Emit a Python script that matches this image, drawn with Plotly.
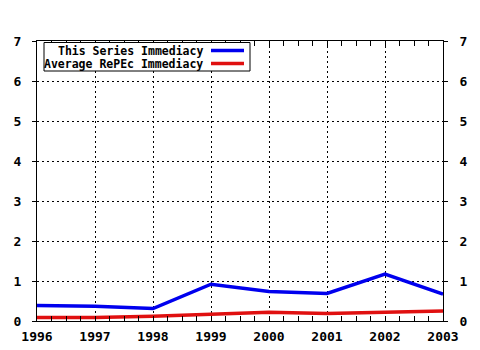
import plotly.graph_objects as go

# Yearly immediacy values
years = [1996, 1997, 1998, 1999, 2000, 2001, 2002, 2003]
series_immediacy = [0.39, 0.37, 0.31, 0.92, 0.74, 0.69, 1.17, 0.67]
repec_immediacy = [0.09, 0.09, 0.12, 0.17, 0.22, 0.19, 0.22, 0.25]
series_names = ["This Series Immediacy", "Average RePEc Immediacy"]
series_colors = ["#0000ee", "#e01010"]
y_ticks = [0, 1, 2, 3, 4, 5, 6, 7]

W, H = 480, 350
L, R, T, B = 37, 37, 41, 29
PW, PH = W - L - R, H - T - B


def px(x):
    return (x - L) / PW


def py(y):
    return (H - B - y) / PH


mono = "DejaVu Sans Mono"
tick_font = dict(family=mono, size=13, color="black", weight="bold")

fig = go.Figure()
fig.add_trace(go.Scatter(x=years, y=series_immediacy, mode="lines",
                         line=dict(color=series_colors[0], width=3.5),
                         name=series_names[0], yaxis="y"))
fig.add_trace(go.Scatter(x=years, y=repec_immediacy, mode="lines",
                         line=dict(color=series_colors[1], width=3.5),
                         name=series_names[1], yaxis="y2"))

axis_common = dict(
    showline=True, linecolor="black", linewidth=1,
    showgrid=True, gridcolor="black", gridwidth=1, griddash="2px,3px",
    zeroline=False, tickfont=tick_font, tickcolor="black", automargin=False,
)

fig.update_layout(
    width=W, height=H,
    margin=dict(l=L, r=R, t=T, b=B, pad=0),
    paper_bgcolor="white", plot_bgcolor="white",
    showlegend=False,
    xaxis=dict(
        range=[years[0], years[-1]], tickvals=years,
        ticks="inside", ticklen=5, mirror="allticks",
        ticklabelstandoff=3,
        minor=dict(dtick=0.25, ticks="inside", ticklen=3, tickcolor="black",
                   showgrid=False),
        **axis_common,
    ),
    yaxis=dict(
        range=[0, 7], tickvals=y_ticks, side="left",
        ticks="outside", ticklen=4, ticklabelstandoff=8,
        **axis_common,
    ),
    yaxis2=dict(
        range=[0, 7], tickvals=y_ticks, side="right", overlaying="y",
        ticks="outside", ticklen=4, ticklabelstandoff=9,
        showline=True, linecolor="black",
        linewidth=1, showgrid=False, zeroline=False, automargin=False,
        tickfont=tick_font, tickcolor="black",
    ),
)

# Legend box drawn with text on the left and line samples on the right
shapes = [dict(type="rect", xref="paper", yref="paper",
               x0=px(44), x1=px(250), y0=py(71), y1=py(42.5),
               line=dict(color="black", width=1), fillcolor="white",
               layer="above")]
annotations = []
for i, (name, color) in enumerate(zip(series_names, series_colors)):
    yy = py(50.5 + i * 13)
    shapes.append(dict(type="line", xref="paper", yref="paper",
                       x0=px(211), x1=px(244), y0=yy, y1=yy,
                       line=dict(color=color, width=3.5), layer="above"))
    annotations.append(dict(xref="paper", yref="paper", x=px(205), y=yy,
                            xanchor="right", yanchor="middle", showarrow=False,
                            text=name,
                            font=dict(family=mono, size=11.5, color="black",
                                      weight="bold")))
fig.update_layout(shapes=shapes, annotations=annotations)

fig.write_html("out.html")
